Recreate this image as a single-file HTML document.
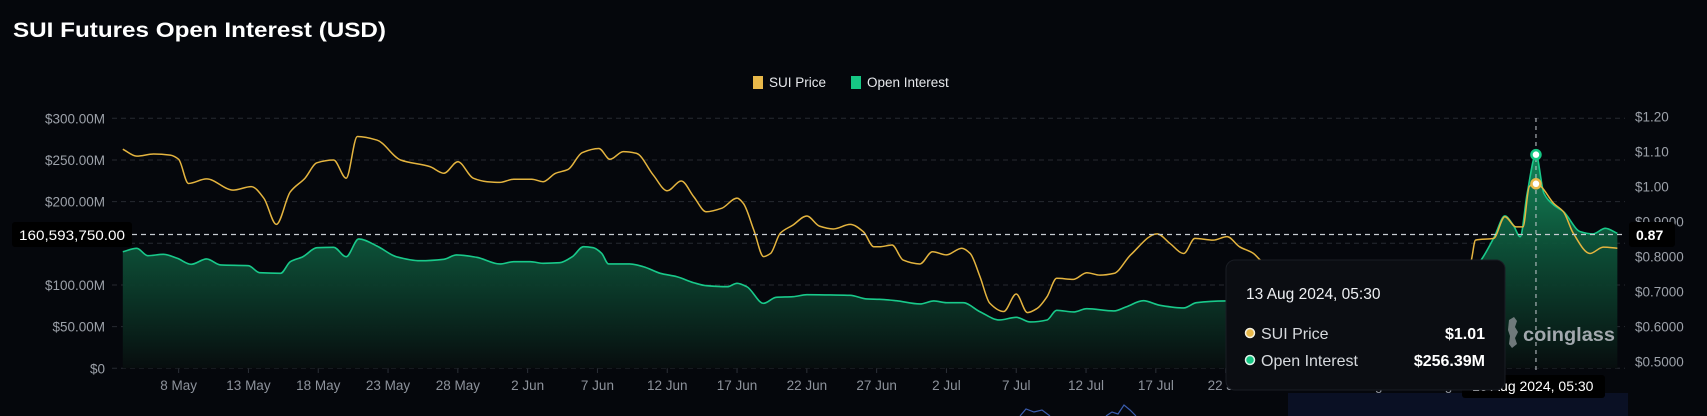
<!DOCTYPE html>
<html><head><meta charset="utf-8">
<style>
html,body{margin:0;padding:0;background:#05070c;}
body{width:1707px;height:416px;overflow:hidden;font-family:"Liberation Sans",sans-serif;}
svg{display:block}
</style></head>
<body>
<svg id="chart" width="1707" height="416" viewBox="0 0 1707 416" xmlns="http://www.w3.org/2000/svg">
<defs>
<linearGradient id="oiGrad" gradientUnits="userSpaceOnUse" x1="0" y1="150" x2="0" y2="368">
<stop offset="0" stop-color="#15905f" stop-opacity="0.95"/>
<stop offset="0.45" stop-color="#0d5138" stop-opacity="0.95"/>
<stop offset="1" stop-color="#070d0e" stop-opacity="1"/>
</linearGradient>
</defs>
<rect x="0" y="0" width="1707" height="416" fill="#05070c"/>
<text x="13" y="37" fill="#ffffff" font-size="21" font-weight="bold" textLength="373" lengthAdjust="spacingAndGlyphs">SUI Futures Open Interest (USD)</text>
<g>
<g><rect x="753" y="76" width="10" height="13" fill="#e8b84a"/><text x="769" y="87" fill="#e6e8ec" font-size="13.5">SUI Price</text></g>
<g><rect x="851" y="76" width="10" height="13" fill="#16c784"/><text x="867" y="87" fill="#e6e8ec" font-size="13.5">Open Interest</text></g>
</g>
<g id="grid"></g>
<g id="yLeft"></g>
<g id="yRight"></g>
<g id="xAxis"></g>
<g id="series"></g>
<g id="overlay"></g>
</svg>
<script>
const priceDays=[0,1.0,2.2,3.4,4.0,4.7,6.0,7.9,9.2,10.1,11.0,12.0,13.05,13.9,15.1,16.0,16.8,18.2,19.9,22.0,23.0,24.0,25.1,26.1,27.0,28.0,29.3,30.1,31.0,31.9,32.9,34.1,34.9,35.85,36.8,38.0,39.0,40.0,40.9,41.8,42.9,44.0,44.45,45.2,45.9,46.4,47.1,48.0,49.0,49.9,50.9,52.1,53.05,53.8,54.2,55.1,55.9,57.1,58.0,59.0,60.1,60.7,61.4,62.1,63.1,64.0,64.8,65.5,66.2,66.9,68.1,69.05,70.0,71.0,72.2,74.1,75.0,76.0,76.8,78.1,79.1,80.0,81.0,81.5,83,85,87,89,91,93,94,95,96,96.6,96.9,98.2,99.0,99.8,100.3,100.75,101.23,101.6,102.5,103.2,103.9,105.1,106.05,107.06];
const priceVals=[1.109,1.089,1.095,1.092,1.080,1.011,1.024,0.992,1.002,0.969,0.894,0.987,1.026,1.070,1.078,1.026,1.145,1.135,1.078,1.059,1.040,1.073,1.026,1.016,1.014,1.023,1.023,1.016,1.040,1.051,1.099,1.111,1.080,1.102,1.097,1.035,0.990,1.018,0.973,0.930,0.940,0.969,0.954,0.878,0.802,0.811,0.869,0.892,0.918,0.889,0.881,0.894,0.873,0.830,0.830,0.835,0.792,0.781,0.816,0.807,0.826,0.811,0.745,0.669,0.645,0.695,0.642,0.654,0.687,0.740,0.737,0.756,0.749,0.754,0.807,0.867,0.840,0.811,0.854,0.849,0.859,0.830,0.811,0.792,0.77,0.75,0.72,0.69,0.65,0.58,0.62,0.66,0.72,0.792,0.849,0.854,0.916,0.887,0.887,1.002,1.013,1.002,0.954,0.930,0.869,0.811,0.829,0.826];
const oiDays=[0,1.0,1.8,2.9,3.9,4.9,6.0,7.0,9.0,9.8,11.3,12.0,12.9,13.9,15.1,16.0,16.9,18.2,19.6,21.3,23.0,23.9,25.35,27.0,28.0,29.2,30.1,31.3,32.2,33.0,33.7,34.3,34.8,36.3,37.3,38.5,39.7,40.9,41.8,43.3,44.0,44.7,45.9,46.8,48.0,49.0,50.7,52.1,53.3,54.2,55.4,57.1,58.1,59.0,60.2,61.4,62.8,64.0,65.0,66.2,66.9,68.1,69.05,71.0,71.9,73.1,74.3,76.0,76.9,79.0,81,83,85,87,89,91,93,94,95,96,96.8,97.3,98.25,99.0,99.6,100.1,100.6,101.23,101.8,102.5,103.2,104.4,105.3,106.2,107.06];
const oiVals=[139.9,144.0,135.1,136.8,132.0,124.8,131.2,124.0,123.1,114.7,114.0,127.9,133.9,144.7,145.2,133.9,155.2,146.8,133.9,129.1,130.8,136.0,133.2,125.2,127.9,127.9,126.0,126.7,133.9,145.9,144.7,138.0,125.2,125.2,121.9,114.0,109.9,102.7,99.1,97.9,102.0,97.9,78.0,85.2,85.9,88.3,88.0,87.6,83.2,82.8,81.1,77.2,80.8,78.7,78.7,67.9,58.0,61.2,55.6,58.0,69.6,67.6,71.5,68.8,73.9,81.1,75.6,72.4,78.7,80.8,81,79,76,72,68,63,54,60,75,100,120,130,157.9,182.8,172,157.9,210,256.4,210,196,188,164,161.2,168,162];
const leftTicks=[0,50,100,150,200,250,300];
const leftTickLabels=["$0","$50.00M","$100.00M","","$200.00M","$250.00M","$300.00M"];
const rightTicks=[1.20,1.10,1.00,0.90,0.80,0.70,0.60,0.50];
const rightTickLabels=["$1.20","$1.10","$1.00","$0.9000","$0.8000","$0.7000","$0.6000","$0.5000"];
const xTickDays=[4,9,14,19,24,29,34,39,44,49,54,59,64,69,74,79,84,89,94];
const xTickLabels=["8 May","13 May","18 May","23 May","28 May","2 Jun","7 Jun","12 Jun","17 Jun","22 Jun","27 Jun","2 Jul","7 Jul","12 Jul","17 Jul","22 Jul","27 Jul","1 Aug","6 Aug"];
const hoverDay=101.23, hoverPrice=1.01, hoverOI=256.39, refOI=160.59375, refPrice=0.87;

const NS="http://www.w3.org/2000/svg";
const X0=122.8, PXD=13.96, XR=1625;
function xS(d){return X0+d*PXD;}
function yL(v){return 368.3-v*0.8333;}
function yR(p){return 187.3-(p-1)*350;}
function yRlabel(i){return 116.7+i*35.0;}
function mk(tag,attrs,parent){const e=document.createElementNS(NS,tag);for(const k in attrs)e.setAttribute(k,attrs[k]);parent.appendChild(e);return e;}
function monotone(xs,ys){
  const n=xs.length,dx=[],m=[],t=[];
  for(let i=0;i<n-1;i++){dx[i]=xs[i+1]-xs[i];m[i]=(ys[i+1]-ys[i])/dx[i];}
  t[0]=m[0];t[n-1]=m[n-2];
  for(let i=1;i<n-1;i++){ if(m[i-1]*m[i]<=0)t[i]=0; else {const w1=2*dx[i]+dx[i-1],w2=dx[i]+2*dx[i-1];t[i]=(w1+w2)/(w1/m[i-1]+w2/m[i]);} }
  let d="M"+xs[0].toFixed(2)+","+ys[0].toFixed(2);
  for(let i=0;i<n-1;i++){const h=dx[i]/3;d+="C"+(xs[i]+h).toFixed(2)+","+(ys[i]+t[i]*h).toFixed(2)+" "+(xs[i+1]-h).toFixed(2)+","+(ys[i+1]-t[i+1]*h).toFixed(2)+" "+xs[i+1].toFixed(2)+","+ys[i+1].toFixed(2);}
  return d;
}
const grid=document.getElementById('grid');
leftTicks.forEach((v,i)=>{
  const l=mk('line',{x1:112,x2:XR,y1:yL(v),y2:yL(v),stroke:'#262a31','stroke-width':1,'stroke-dasharray':'5,4'},grid);
  
  
});
const yl=document.getElementById('yLeft');
leftTicks.forEach((v,i)=>{
  if(!leftTickLabels[i])return;
  const t=mk('text',{x:105,y:yL(v)+5,'text-anchor':'end',fill:'#9ca1a9','font-size':13.5},yl);
  t.textContent=leftTickLabels[i];
  
  
});
const yr=document.getElementById('yRight');
rightTicks.forEach((v,i)=>{
  const t=mk('text',{x:1635,y:yRlabel(i)+5,fill:'#9ca1a9','font-size':13.5},yr);
  t.textContent=rightTickLabels[i];
  
  
});
const xa=document.getElementById('xAxis');
xTickDays.forEach((d,i)=>{
  const tk=mk('line',{x1:xS(d),x2:xS(d),y1:368,y2:373,stroke:'#2c3038'},xa);
  
  
  const t=mk('text',{x:xS(d),y:390,'text-anchor':'middle',fill:'#8d929b','font-size':13.5},xa);
  t.textContent=xTickLabels[i];
  
  
});
const ser=document.getElementById('series');
const oxs=oiDays.map(xS), oys=oiVals.map(yL);
const oline=monotone(oxs,oys);
const area=mk('path',{d:oline+"L"+oxs[oxs.length-1]+",368.3L"+oxs[0]+",368.3Z",fill:'url(#oiGrad)'},ser);


const ol=mk('path',{d:oline,fill:'none',stroke:'#19c98a','stroke-width':1.6},ser);


const pl=mk('path',{d:monotone(priceDays.map(xS),priceVals.map(yR)),fill:'none',stroke:'#e4b43f','stroke-width':1.5},ser);



const ov=document.getElementById('overlay');
const hx=xS(hoverDay);
const ry=yL(refOI);
const hl=mk('line',{x1:123,x2:XR,y1:ry,y2:ry,stroke:'#c8ccd2','stroke-width':1.2,'stroke-dasharray':'5,4'},ov);


const vl=mk('line',{x1:hx,x2:hx,y1:118,y2:372,stroke:'#c8ccd2','stroke-width':1,'stroke-dasharray':'4,4'},ov);


const d1=mk('circle',{cx:hx,cy:yL(hoverOI),r:4.5,fill:'#ffffff',stroke:'#16c784','stroke-width':2.5},ov);


const d2=mk('circle',{cx:hx,cy:yR(hoverPrice),r:4.5,fill:'#ffffff',stroke:'#e8b84a','stroke-width':2.5},ov);


</script>
<svg style="position:absolute;left:0;top:0" width="1707" height="416" viewBox="0 0 1707 416" xmlns="http://www.w3.org/2000/svg">
<g><rect x="12" y="222" width="120" height="25" rx="3" fill="#000"/><text x="19" y="240" fill="#fff" font-size="14" textLength="106" lengthAdjust="spacingAndGlyphs">160,593,750.00</text></g>
<g><rect x="1629" y="222" width="46" height="25" rx="3" fill="#000"/><text x="1636" y="240" fill="#fff" font-size="14" font-weight="bold">0.87</text></g>
<g><path d="M1509,320 l5,-3 l3,4 l-2,6 l3,5 l-3,6 l2,6 l-5,4 l-3,-4 l1,-8 l-2,-6 z" fill="#8a9094" opacity="0.8"/><text x="1523" y="341" fill="#a2a8ae" font-size="19" font-weight="bold" textLength="92" lengthAdjust="spacingAndGlyphs">coinglass</text></g>
<rect x="1288" y="393" width="340" height="23" fill="#0a1024"/>
<polyline points="1020,416 1026,409 1034,412 1042,410 1050,416" fill="none" stroke="#3a5cae" stroke-width="1.2"/>
<polyline points="1106,416 1112,412 1118,414 1124,405 1130,410 1136,416" fill="none" stroke="#3a5cae" stroke-width="1.2"/>
<g><rect x="1462" y="375" width="143" height="23" rx="3" fill="#000"/><text x="1472" y="391" fill="#fff" font-size="14">13 Aug 2024, 05:30</text></g>
<g>
<rect x="1226" y="260" width="279" height="130" rx="9" fill="#0b0d12" stroke="#1a1d24"/>
<text x="1246" y="299" fill="#eef0f3" font-size="15.5">13 Aug 2024, 05:30</text>
<circle cx="1250" cy="333" r="4.5" fill="#e8b84a" stroke="#f4f0e0" stroke-width="1.5"/>
<text x="1261" y="339" fill="#d7dade" font-size="16">SUI Price</text>
<text x="1485" y="339" fill="#fff" font-size="16" font-weight="bold" text-anchor="end">$1.01</text>
<circle cx="1250" cy="360" r="4.5" fill="#16c784" stroke="#e0f4ea" stroke-width="1.5"/>
<text x="1261" y="366" fill="#d7dade" font-size="16">Open Interest</text>
<text x="1485" y="366" fill="#fff" font-size="16" font-weight="bold" text-anchor="end">$256.39M</text>
</g>
</svg>
</body></html>
